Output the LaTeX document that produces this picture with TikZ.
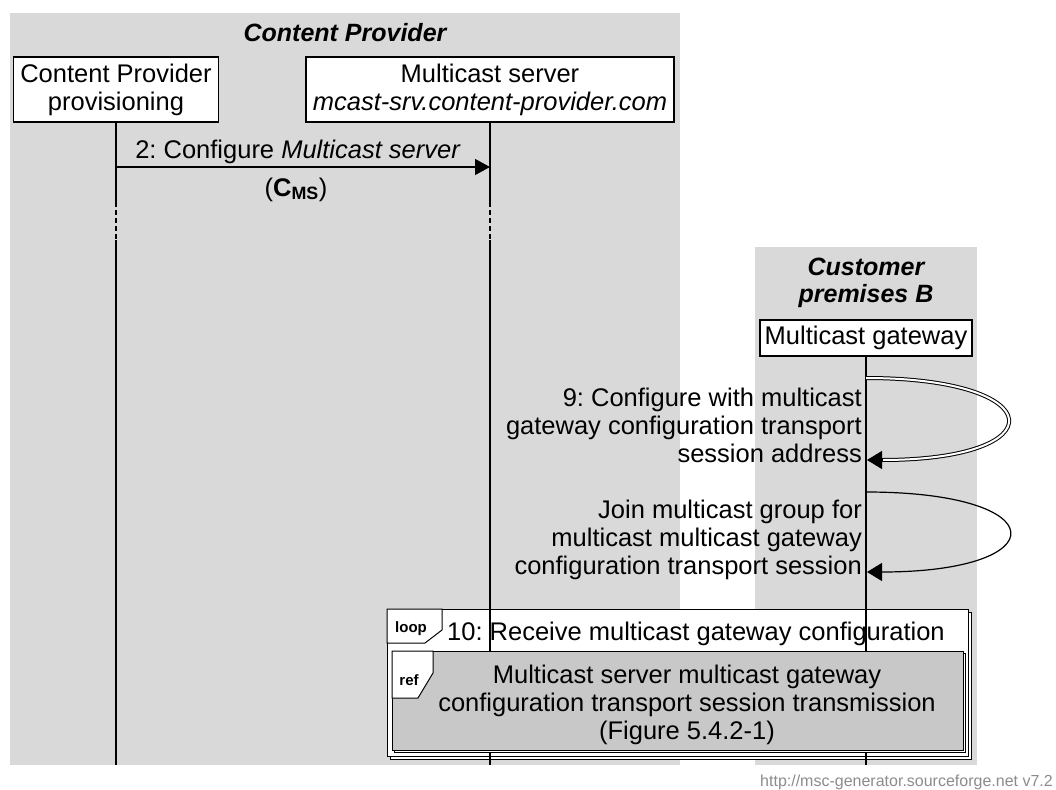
\documentclass[tikz,border=0pt]{standalone}
\usepackage{fontspec}
\setmainfont{Liberation Sans}
\usetikzlibrary{arrows.meta}
\frenchspacing

\definecolor{groupgrey}{RGB}{217,217,217}
\definecolor{refgrey}{RGB}{200,200,200}
\definecolor{footgrey}{RGB}{140,140,140}

\tikzset{
	entity/.style={draw,line width=1.3pt,fill=white,align=center},
	lifeline/.style={line width=1.5pt},
	dotline/.style={line width=1.3pt,dash pattern=on 5pt off 3pt},
	msg/.style={line width=1.3pt,-{Triangle[length=15pt,width=16pt]}},
	selfmsg/.style={line width=1.2pt,-{Triangle[length=15pt,width=18pt]}},
	grouptitle/.style={font=\fontsize{25}{27}\selectfont\bfseries\itshape,align=center,anchor=base},
	tagtext/.style={font=\fontsize{15}{17}\selectfont\bfseries,anchor=base},
	boxline/.style={line width=1pt,fill=white}
}

\begin{document}
\begin{tikzpicture}[x=1pt,y=-1pt,font=\fontsize{25.5}{28}\selectfont,every node/.style={inner sep=0pt}]
	\useasboundingbox[fill=white] (0,0) rectangle (1056,789);
	
	%groups
	\fill[groupgrey] (10,13) rectangle (680,765);
	\fill[groupgrey] (755,247) rectangle (977,765);
	\node[grouptitle] (cptitle) at (345,42) {Content Provider};
	\node[grouptitle] (cbtitle) at (866,302) {Customer\\premises B};
	
	%entities
	\node[entity,minimum width=205pt,minimum height=65pt] (cpp) at (116,89.5) {Content Provider\\provisioning};
	\node[entity,minimum width=368pt,minimum height=65pt] (ms) at (490,89.5) {Multicast server\\\textit{mcast-srv.content-provider.com}};
	\node[entity,minimum width=212pt,minimum height=36pt] (mg) at (866,338) {Multicast gateway};
	
	%loop box
	\draw[boxline] (390,612) rectangle (971,759);
	\draw[boxline] (387,609) rectangle (968,756);
	\draw[boxline] (387,609) -- (442,609) -- (442,630) -- (425,643) -- (387,643) -- cycle;
	\node[tagtext] (looptag) at (411,632) {loop};
	\node[anchor=base west] (looptitle) at (447,640) {10: Receive multicast gateway configuration};
	
	%lifelines
	\coordinate (cppdotA) at (116,202);
	\coordinate (cppdotB) at (116,240);
	\coordinate (cppend) at (116,765);
	\coordinate (msdotA) at (490,202);
	\coordinate (msdotB) at (490,240);
	\coordinate (msend) at (490,765);
	\coordinate (mgend) at (866,765);
	\draw[lifeline] (cpp.south) -- (cppdotA);
	\draw[dotline] (cppdotA) -- (cppdotB);
	\draw[lifeline] (cppdotB) -- (cppend);
	\draw[lifeline] (ms.south) -- (msdotA);
	\draw[dotline] (msdotA) -- (msdotB);
	\draw[lifeline] (msdotB) -- (msend);
	\draw[lifeline] (mg.south) -- (mgend);
	
	%2
	\coordinate (cpp2) at (116,167);
	\coordinate (ms2) at (490,167);
	\draw[msg] (cpp2) -- (ms2);
	\node[anchor=base] (m2label) at (298,158) {2: Configure \textit{Multicast server}};
	\node[anchor=base] (m2param) at (296,196) {(\textbf{C\textsubscript{MS}})};
	
	%9
	\coordinate (mg9a) at (866,378);
	\coordinate (mg9b) at (882,460);
	\coordinate (mg9c) at (867,460);
	\draw[line width=1pt,double,double distance=2pt] (mg9a) .. controls +(185,0) and +(175,0) .. (mg9b);
	\draw[selfmsg] (mg9b) -- (mg9c);
	\node[anchor=base east,align=right] (m9label) at (862,462) {9: Configure with multicast\\gateway configuration transport\\session address};
	
	%join
	\coordinate (mgja) at (866,492);
	\coordinate (mgjb) at (867,572);
	\draw[selfmsg] (mgja) .. controls +(190,0) and +(190,0) .. (mgjb);
	\node[anchor=base east,align=right] (mjlabel) at (862,574) {Join multicast group for\\multicast multicast gateway\\configuration transport session};
	
	%ref box
	\draw[boxline] (394,653) rectangle (965,752);
	\draw[boxline,fill=refgrey] (392,651) rectangle (963,750);
	\draw[boxline] (392,651) -- (433,651) -- (433,673) -- (418,698) -- (392,698) -- cycle;
	\node[tagtext] (reftag) at (409,685) {ref};
	\node[anchor=base,align=center] (reftext) at (687,739) {Multicast server multicast gateway\\configuration transport session transmission\\(Figure 5.4.2-1)};
	
	\node[anchor=base east,font=\fontsize{16}{18}\selectfont,text=footgrey] (footer) at (1053,786) {http://msc-generator.sourceforge.net v7.2};
	
\end{tikzpicture}
\end{document}
